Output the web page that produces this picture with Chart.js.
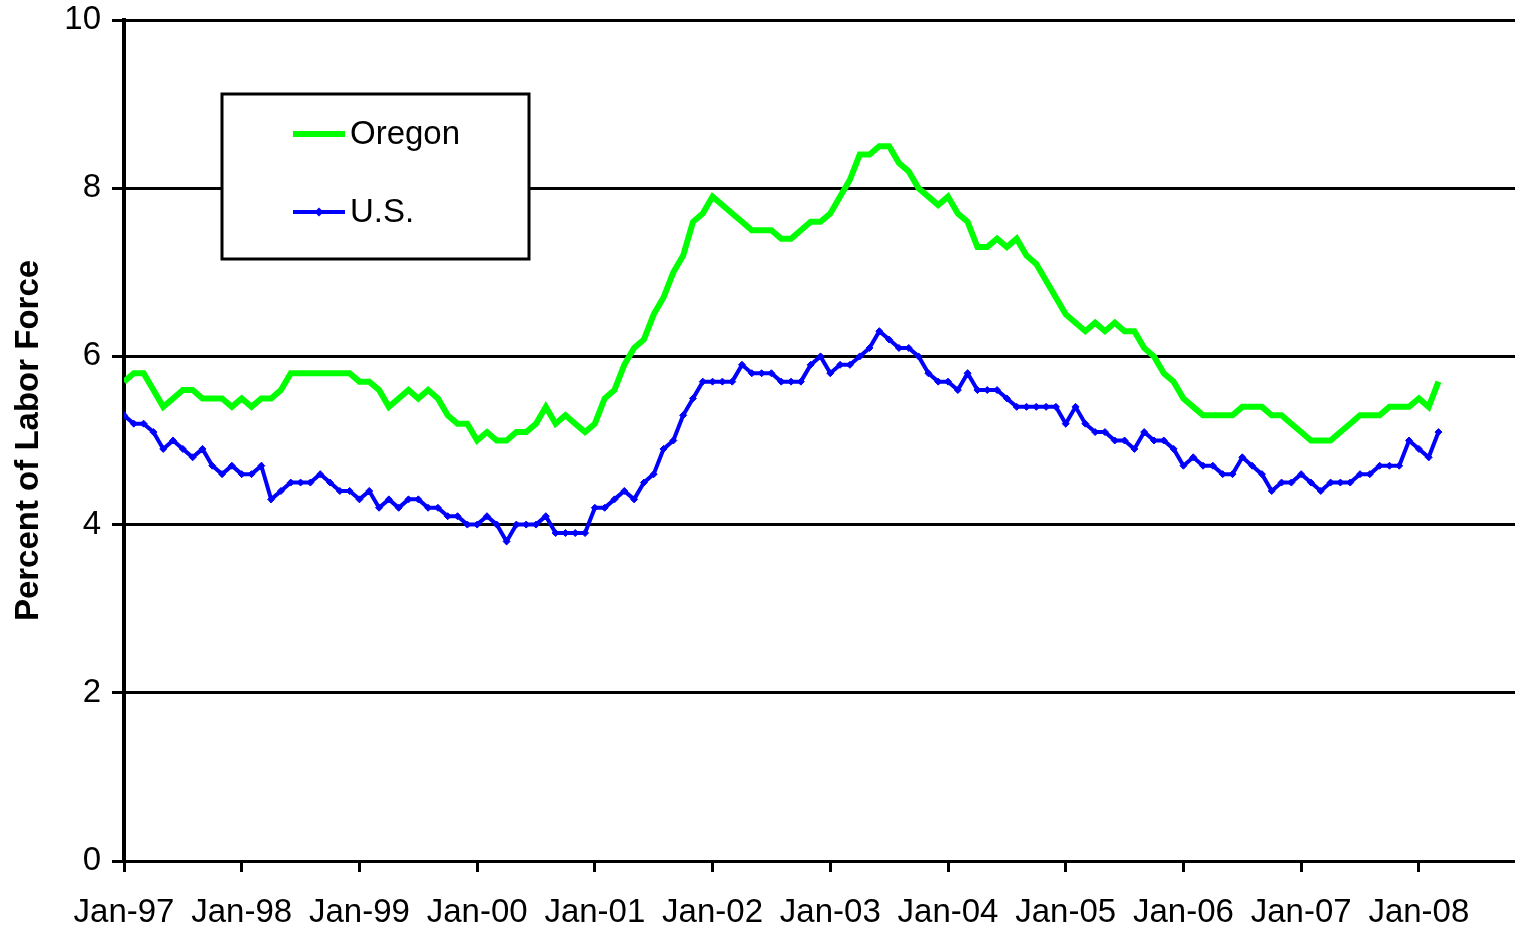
<!DOCTYPE html>
<html>
<head>
<meta charset="utf-8">
<title>Unemployment Rate: Oregon and U.S.</title>
<script src="https://cdn.jsdelivr.net/npm/chart.js@4.4.1/dist/chart.umd.min.js"></script>
<style>
  html, body { margin: 0; padding: 0; background: #fff; }
  #wrap { width: 1515px; height: 927px; }
</style>
</head>
<body>
<div id="wrap"><canvas id="rateChart" width="1515" height="927"></canvas></div>
<script>
// x axis labels, one per January
var tickLabels = ['Jan-97', 'Jan-98', 'Jan-99', 'Jan-00', 'Jan-01', 'Jan-02',
                  'Jan-03', 'Jan-04', 'Jan-05', 'Jan-06', 'Jan-07', 'Jan-08'];

// monthly unemployment rate, Jan-97 .. Mar-08
var oregon = [
  5.7, 5.8, 5.8, 5.6, 5.4, 5.5, 5.6, 5.6, 5.5, 5.5, 5.5, 5.4,
  5.5, 5.4, 5.5, 5.5, 5.6, 5.8, 5.8, 5.8, 5.8, 5.8, 5.8, 5.8,
  5.7, 5.7, 5.6, 5.4, 5.5, 5.6, 5.5, 5.6, 5.5, 5.3, 5.2, 5.2,
  5.0, 5.1, 5.0, 5.0, 5.1, 5.1, 5.2, 5.4, 5.2, 5.3, 5.2, 5.1,
  5.2, 5.5, 5.6, 5.9, 6.1, 6.2, 6.5, 6.7, 7.0, 7.2, 7.6, 7.7,
  7.9, 7.8, 7.7, 7.6, 7.5, 7.5, 7.5, 7.4, 7.4, 7.5, 7.6, 7.6,
  7.7, 7.9, 8.1, 8.4, 8.4, 8.5, 8.5, 8.3, 8.2, 8.0, 7.9, 7.8,
  7.9, 7.7, 7.6, 7.3, 7.3, 7.4, 7.3, 7.4, 7.2, 7.1, 6.9, 6.7,
  6.5, 6.4, 6.3, 6.4, 6.3, 6.4, 6.3, 6.3, 6.1, 6.0, 5.8, 5.7,
  5.5, 5.4, 5.3, 5.3, 5.3, 5.3, 5.4, 5.4, 5.4, 5.3, 5.3, 5.2,
  5.1, 5.0, 5.0, 5.0, 5.1, 5.2, 5.3, 5.3, 5.3, 5.4, 5.4, 5.4,
  5.5, 5.4, 5.7
];

var us = [
  5.3, 5.2, 5.2, 5.1, 4.9, 5.0, 4.9, 4.8, 4.9, 4.7, 4.6, 4.7,
  4.6, 4.6, 4.7, 4.3, 4.4, 4.5, 4.5, 4.5, 4.6, 4.5, 4.4, 4.4,
  4.3, 4.4, 4.2, 4.3, 4.2, 4.3, 4.3, 4.2, 4.2, 4.1, 4.1, 4.0,
  4.0, 4.1, 4.0, 3.8, 4.0, 4.0, 4.0, 4.1, 3.9, 3.9, 3.9, 3.9,
  4.2, 4.2, 4.3, 4.4, 4.3, 4.5, 4.6, 4.9, 5.0, 5.3, 5.5, 5.7,
  5.7, 5.7, 5.7, 5.9, 5.8, 5.8, 5.8, 5.7, 5.7, 5.7, 5.9, 6.0,
  5.8, 5.9, 5.9, 6.0, 6.1, 6.3, 6.2, 6.1, 6.1, 6.0, 5.8, 5.7,
  5.7, 5.6, 5.8, 5.6, 5.6, 5.6, 5.5, 5.4, 5.4, 5.4, 5.4, 5.4,
  5.2, 5.4, 5.2, 5.1, 5.1, 5.0, 5.0, 4.9, 5.1, 5.0, 5.0, 4.9,
  4.7, 4.8, 4.7, 4.7, 4.6, 4.6, 4.8, 4.7, 4.6, 4.4, 4.5, 4.5,
  4.6, 4.5, 4.4, 4.5, 4.5, 4.5, 4.6, 4.6, 4.7, 4.7, 4.7, 5.0,
  4.9, 4.8, 5.1
];

var FONT = '"Liberation Sans", Arial, sans-serif';

// x is the month number counted from Jan-97
function toPoints(arr) {
  return arr.map(function (v, i) { return { x: i, y: v }; });
}

// legend drawn as a framed box inside the plot, like the original
var boxLegend = {
  id: 'boxLegend',
  afterDraw: function (chart) {
    var ctx = chart.ctx;
    ctx.save();
    ctx.fillStyle = '#fff';
    ctx.fillRect(222, 94, 307, 165);
    ctx.lineWidth = 3;
    ctx.strokeStyle = '#000';
    ctx.strokeRect(222, 94, 307, 165);

    chart.data.datasets.forEach(function (ds, i) {
      var y = 134 + i * 78;
      ctx.strokeStyle = ds.borderColor;
      ctx.lineWidth = ds.borderWidth;
      ctx.beginPath();
      ctx.moveTo(293, y);
      ctx.lineTo(345, y);
      ctx.stroke();
      if (ds.pointRadius > 0) {
        var r = ds.pointRadius + 1;
        ctx.fillStyle = ds.pointBackgroundColor;
        ctx.beginPath();
        ctx.moveTo(319, y - r);
        ctx.lineTo(319 + r, y);
        ctx.lineTo(319, y + r);
        ctx.lineTo(319 - r, y);
        ctx.closePath();
        ctx.fill();
      }
      ctx.fillStyle = '#000';
      ctx.font = '33px ' + FONT;
      ctx.textBaseline = 'middle';
      ctx.textAlign = 'left';
      ctx.fillText(ds.label, 350, y + 1);
    });
    ctx.restore();
  }
};

var rateChart = new Chart(document.getElementById('rateChart'), {
  type: 'line',
  data: {
    datasets: [{
      label: 'Oregon',
      data: toPoints(oregon),
      borderColor: '#00ff00',
      backgroundColor: '#00ff00',
      borderWidth: 6,
      pointRadius: 0,
      tension: 0
    }, {
      label: 'U.S.',
      data: toPoints(us),
      borderColor: '#0000ff',
      backgroundColor: '#0000ff',
      pointBackgroundColor: '#0000ff',
      pointBorderColor: '#0000ff',
      borderWidth: 4,
      pointStyle: 'rectRot',
      pointRadius: 3.5,
      pointBorderWidth: 1,
      tension: 0
    }]
  },
  options: {
    responsive: false,
    animation: false,
    devicePixelRatio: 1,
    layout: { autoPadding: false, padding: { top: 20, right: 0, bottom: 0, left: 0 } },
    plugins: {
      legend: { display: false },
      tooltip: { enabled: false }
    },
    scales: {
      x: {
        type: 'linear',
        min: 0,
        max: 141.8,
        afterBuildTicks: function (scale) {
          scale.ticks = tickLabels.map(function (t, i) { return { value: i * 12 }; });
        },
        afterFit: function (scale) { scale.height = 66; },
        ticks: {
          autoSkip: false,
          maxRotation: 0,
          padding: 21,
          color: '#000',
          font: { family: FONT, size: 33 },
          callback: function (value) { return tickLabels[Math.round(value / 12)]; }
        },
        grid: {
          drawOnChartArea: false,
          drawTicks: true,
          tickLength: 11,
          tickWidth: 3,
          tickColor: '#000'
        },
        border: { display: true, color: '#000', width: 3 }
      },
      y: {
        min: 0,
        max: 10,
        afterFit: function (scale) {
          scale.width = 124;
          scale.paddingTop = 0;
          scale.paddingBottom = 0;
        },
        ticks: {
          stepSize: 2,
          padding: 11,
          color: '#000',
          font: { family: FONT, size: 33 }
        },
        grid: {
          color: '#000',
          lineWidth: 3,
          tickLength: 12,
          tickWidth: 3,
          tickColor: '#000'
        },
        border: { display: true, color: '#000', width: 4 },
        title: {
          display: true,
          text: 'Percent of Labor Force',
          color: '#000',
          font: { family: FONT, size: 33, weight: 'bold' },
          padding: { top: 9, bottom: 0 }
        }
      }
    }
  },
  plugins: [boxLegend]
});
</script>
</body>
</html>
